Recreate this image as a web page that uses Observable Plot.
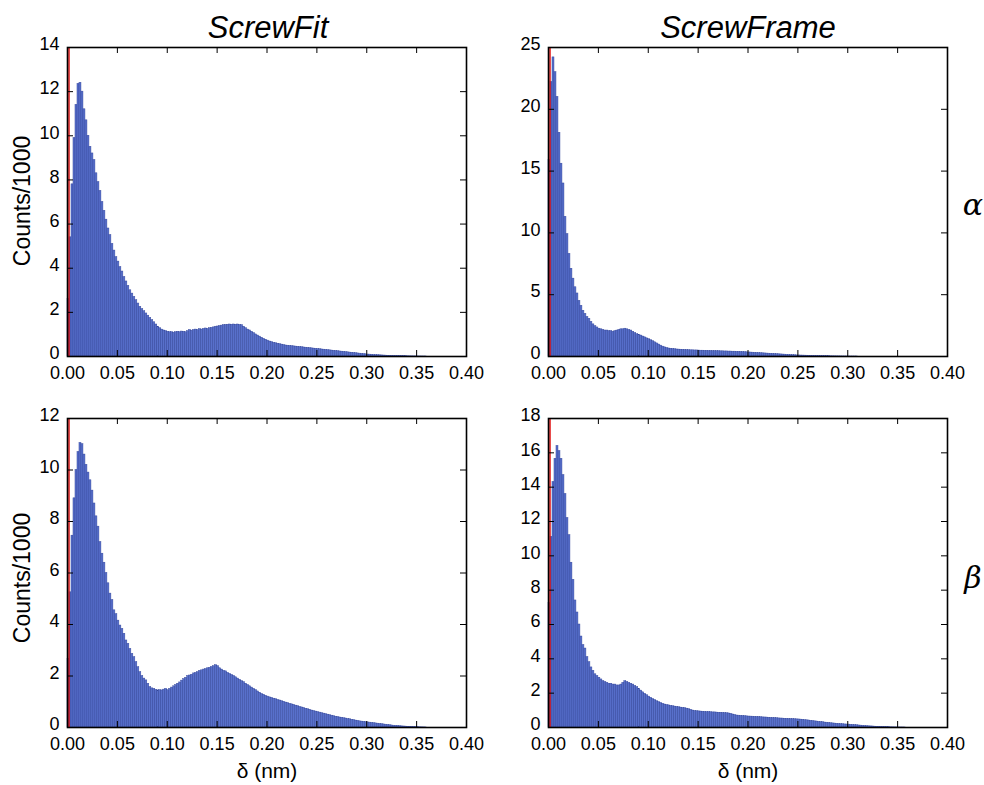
<!DOCTYPE html>
<html>
<head>
<meta charset="utf-8">
<script src="https://cdn.jsdelivr.net/npm/d3@7"></script>
<script src="https://cdn.jsdelivr.net/npm/@observablehq/plot@0.6"></script>
<style>
  body { margin: 0; background: #fff; }
  #fig { position: relative; width: 984px; height: 785px; background: #fff; font-family: "Liberation Sans", Arial, sans-serif; color: #000; }
  .panel { position: absolute; }
  .lbl { position: absolute; transform: translate(-50%, -50%); white-space: nowrap; line-height: 1; }
</style>
</head>
<body>
<div id="fig"></div>
<script>
// ---- data (Counts/1000 per bin of width 0.002 nm, starting at 0) ----
const binWidth = 0.002;
const xTicks = [0, 0.05, 0.10, 0.15, 0.20, 0.25, 0.30, 0.35, 0.40];

const fitAlpha = [
  2.6, 5.4, 7.8, 9.9, 11.4, 12.35, 12.4, 12.0, 11.2, 10.7,
  10.0, 9.5, 9.2, 8.9, 8.3, 7.9, 7.5, 7.0, 6.6, 6.2,
  5.8, 5.5, 5.1, 4.8, 4.5, 4.3, 4.05, 3.85, 3.6, 3.4,
  3.2, 3.0, 2.85, 2.7, 2.55, 2.4, 2.25, 2.15, 2.05, 1.95,
  1.85, 1.75, 1.65, 1.55, 1.45, 1.35, 1.28, 1.22, 1.18, 1.15,
  1.12, 1.1, 1.1, 1.08, 1.1, 1.12, 1.1, 1.13, 1.12, 1.1,
  1.15, 1.2, 1.17, 1.2, 1.22, 1.2, 1.24, 1.22, 1.25, 1.27,
  1.25, 1.28, 1.3, 1.32, 1.35, 1.36, 1.38, 1.4, 1.42, 1.43,
  1.44, 1.45, 1.44, 1.45, 1.44, 1.45, 1.43, 1.42, 1.35, 1.28,
  1.22, 1.18, 1.12, 1.06, 1.0, 0.95, 0.9, 0.85, 0.8, 0.76,
  0.72, 0.68, 0.65, 0.62, 0.6, 0.58, 0.56, 0.54, 0.52, 0.5,
  0.49, 0.48, 0.47, 0.46, 0.45, 0.44, 0.43, 0.42, 0.41, 0.4,
  0.39, 0.38, 0.37, 0.36, 0.35, 0.34, 0.33, 0.32, 0.31, 0.3,
  0.29, 0.28, 0.27, 0.26, 0.25, 0.24, 0.23, 0.22, 0.21, 0.2,
  0.19, 0.18, 0.17, 0.16, 0.15, 0.14, 0.13, 0.12, 0.11, 0.1,
  0.09, 0.085, 0.08, 0.07, 0.065, 0.06, 0.055, 0.05, 0.045, 0.04,
  0.035, 0.03, 0.028, 0.025, 0.022, 0.02, 0.018, 0.015, 0.013, 0.011,
  0.01, 0.008, 0.006, 0.005, 0.004, 0.003, 0.002, 0.002, 0.001, 0.001
];

const frameAlpha = [
  15.9, 22.2, 24.2, 23.0, 21.0, 18.1, 15.6, 14.0, 11.3, 9.9,
  8.3, 7.1, 6.3, 5.6, 5.1, 4.5, 4.1, 3.7, 3.45, 3.2,
  3.05, 2.8, 2.6, 2.45, 2.35, 2.25, 2.2, 2.15, 2.1, 2.1,
  2.05, 2.05, 2.0, 2.05, 2.1, 2.15, 2.2, 2.2, 2.25, 2.2,
  2.15, 2.1, 2.0, 1.9, 1.8, 1.75, 1.7, 1.62, 1.55, 1.47,
  1.4, 1.32, 1.24, 1.15, 1.06, 0.97, 0.88, 0.8, 0.74, 0.69,
  0.65, 0.63, 0.61, 0.59, 0.57, 0.56, 0.55, 0.54, 0.53, 0.52,
  0.51, 0.5, 0.5, 0.49, 0.49, 0.48, 0.47, 0.47, 0.46, 0.46,
  0.45, 0.45, 0.44, 0.44, 0.43, 0.43, 0.42, 0.42, 0.41, 0.41,
  0.4, 0.4, 0.39, 0.39, 0.38, 0.38, 0.37, 0.36, 0.35, 0.34,
  0.33, 0.32, 0.31, 0.3, 0.29, 0.28, 0.27, 0.26, 0.25, 0.24,
  0.23, 0.22, 0.21, 0.2, 0.19, 0.18, 0.17, 0.16, 0.15, 0.14,
  0.13, 0.12, 0.11, 0.1, 0.09, 0.085, 0.08, 0.075, 0.07, 0.065,
  0.06, 0.055, 0.05, 0.045, 0.04, 0.035, 0.03, 0.028, 0.025, 0.022,
  0.02, 0.018, 0.016, 0.014, 0.012, 0.01, 0.008, 0.006, 0.005, 0.004,
  0.003, 0.002, 0.002, 0.001, 0.001
];

const fitBeta = [
  2.67, 5.25, 7.45, 8.9, 10.0, 10.7, 11.05, 11.0, 10.6, 10.2,
  9.9, 9.6, 9.2, 8.7, 8.2, 7.8, 7.2, 6.75, 6.4, 6.0,
  5.6, 5.2, 4.95, 4.55, 4.4, 4.15, 3.96, 3.83, 3.64, 3.38,
  3.25, 3.05, 2.86, 2.73, 2.54, 2.34, 2.15, 2.0, 1.9, 1.83,
  1.7, 1.57, 1.52, 1.5, 1.46, 1.44, 1.45, 1.44, 1.47, 1.5,
  1.45, 1.5, 1.55, 1.6, 1.65, 1.7, 1.75, 1.82, 1.88, 1.93,
  2.0, 2.02, 2.05, 2.1, 2.12, 2.15, 2.2, 2.22, 2.25, 2.27,
  2.3, 2.32, 2.35, 2.38, 2.42, 2.38, 2.3, 2.25, 2.2, 2.18,
  2.12, 2.08, 2.04, 2.0, 1.95, 1.9, 1.85, 1.8, 1.76, 1.7,
  1.65, 1.6, 1.55, 1.5, 1.45, 1.4, 1.35, 1.3, 1.27, 1.23,
  1.2, 1.17, 1.15, 1.12, 1.1, 1.07, 1.05, 1.02, 1.0, 0.97,
  0.95, 0.92, 0.9, 0.88, 0.85, 0.83, 0.8, 0.78, 0.76, 0.73,
  0.71, 0.69, 0.66, 0.64, 0.62, 0.6, 0.58, 0.56, 0.54, 0.52,
  0.5, 0.48, 0.46, 0.44, 0.42, 0.41, 0.39, 0.38, 0.36, 0.35,
  0.33, 0.32, 0.3, 0.29, 0.27, 0.26, 0.24, 0.23, 0.22, 0.21,
  0.2, 0.19, 0.18, 0.17, 0.16, 0.15, 0.14, 0.13, 0.12, 0.11,
  0.1, 0.09, 0.08, 0.07, 0.065, 0.06, 0.05, 0.045, 0.04, 0.035,
  0.03, 0.025, 0.02, 0.015, 0.012, 0.01, 0.008, 0.006, 0.004, 0.002
];

const frameBeta = [
  7.24, 11.1, 14.3, 15.65, 16.4, 16.1, 15.65, 14.7, 13.6, 12.2,
  11.2, 9.6, 8.6, 7.4, 6.7, 6.0, 5.3, 4.8, 4.6, 4.1,
  3.8, 3.5, 3.3, 3.1, 3.0, 2.9, 2.8, 2.7, 2.65, 2.6,
  2.55, 2.55, 2.5, 2.5, 2.45, 2.45, 2.5, 2.6, 2.7, 2.65,
  2.6, 2.55, 2.5, 2.42, 2.35, 2.25, 2.15, 2.05, 1.96, 1.88,
  1.8, 1.73, 1.66, 1.6, 1.53, 1.48, 1.43, 1.38, 1.34, 1.31,
  1.29, 1.26, 1.24, 1.22, 1.2, 1.18, 1.16, 1.14, 1.13, 1.1,
  1.07, 1.03, 0.99, 0.96, 0.95, 0.94, 0.93, 0.92, 0.91, 0.9,
  0.9, 0.89, 0.88, 0.88, 0.87, 0.86, 0.86, 0.85, 0.84, 0.83,
  0.82, 0.8, 0.76, 0.73, 0.7, 0.69, 0.68, 0.67, 0.66, 0.65,
  0.64, 0.635, 0.63, 0.62, 0.615, 0.61, 0.6, 0.59, 0.585, 0.58,
  0.57, 0.56, 0.555, 0.55, 0.54, 0.53, 0.525, 0.52, 0.51, 0.505,
  0.5, 0.495, 0.49, 0.48, 0.475, 0.47, 0.46, 0.45, 0.43, 0.42,
  0.41, 0.39, 0.38, 0.36, 0.35, 0.33, 0.32, 0.31, 0.29, 0.28,
  0.27, 0.25, 0.24, 0.23, 0.22, 0.21, 0.2, 0.19, 0.18, 0.175,
  0.17, 0.16, 0.15, 0.14, 0.13, 0.12, 0.11, 0.1, 0.09, 0.08,
  0.07, 0.065, 0.06, 0.05, 0.045, 0.04, 0.035, 0.03, 0.025, 0.02,
  0.015, 0.012, 0.01, 0.008, 0.006, 0.004, 0.003, 0.002, 0.001
];

const yTicksFitAlpha = [0, 2, 4, 6, 8, 10, 12, 14];
const yTicksFrameAlpha = [0, 5, 10, 15, 20, 25];
const yTicksFitBeta = [0, 2, 4, 6, 8, 10, 12];
const yTicksFrameBeta = [0, 2, 4, 6, 8, 10, 12, 14, 16, 18];

const titles = ["ScrewFit", "ScrewFrame"];
const rowLabels = ["α", "β"];
const yLabel = "Counts/1000";
const xLabel = "δ (nm)";

// ---- drawing ----
const fig = document.getElementById("fig");

function panel(values, yTicks, left, top, width, height, mt, mb) {
  const ml = 67, mr = 14;
  const plotW = width - ml - mr;
  const plotH = height - mt - mb;
  const data = values.map((v, i) => ({x1: i * binWidth, x2: (i + 1) * binWidth, v}));
  const yMax = yTicks[yTicks.length - 1];
  const tl = 6;
  const chart = Plot.plot({
    width, height,
    marginLeft: ml, marginRight: mr, marginTop: mt, marginBottom: mb,
    style: {fontFamily: "'Liberation Sans', Arial, sans-serif", fontSize: "18px", color: "#000", background: "transparent", overflow: "visible"},
    x: {domain: [0, 0.4]},
    y: {domain: [0, yMax]},
    marks: [
      Plot.rectY(data, {x1: "x1", x2: "x2", y: "v", fill: "#5870cb", stroke: "#30439a", strokeWidth: 0.45}),
      Plot.ruleX([0], {stroke: "#e01010", strokeWidth: 1.5, dx: 1.5}),
      Plot.tickX(xTicks, {x: d => d, insetTop: plotH - tl, stroke: "#000", strokeWidth: 1}),
      Plot.tickX(xTicks, {x: d => d, insetBottom: plotH - tl, stroke: "#000", strokeWidth: 1}),
      Plot.tickY(yTicks, {y: d => d, insetRight: plotW - tl, stroke: "#000", strokeWidth: 1}),
      Plot.tickY(yTicks, {y: d => d, insetLeft: plotW - tl, stroke: "#000", strokeWidth: 1}),
      Plot.frame({stroke: "#000", strokeWidth: 1.6}),
      Plot.axisX({ticks: xTicks, tickSize: 0, tickPadding: 10, tickFormat: d3.format(".2f"), label: null}),
      Plot.axisY({ticks: yTicks, tickSize: 0, tickPadding: 8, tickFormat: d3.format("d"), label: null, dy: -3})
    ]
  });
  chart.classList.add("panel");
  chart.style.left = left + "px";
  chart.style.top = top + "px";
  fig.appendChild(chart);
}

panel(fitAlpha, yTicksFitAlpha, 0, 0, 480, 390, 47, 34);
panel(frameAlpha, yTicksFrameAlpha, 481, 0, 480, 390, 47, 34);
panel(fitBeta, yTicksFitBeta, 0, 390, 480, 395, 28, 58);
panel(frameBeta, yTicksFrameBeta, 481, 390, 480, 395, 28, 58);

function label(text, x, y, css) {
  const d = document.createElement("div");
  d.className = "lbl";
  d.textContent = text;
  d.style.left = x + "px";
  d.style.top = y + "px";
  Object.assign(d.style, css || {});
  fig.appendChild(d);
}

label(titles[0], 268, 27, {fontSize: "31px", fontStyle: "italic"});
label(titles[1], 748, 27, {fontSize: "31px", fontStyle: "italic"});
label(yLabel, 22, 201, {fontSize: "23px", transform: "translate(-50%, -50%) rotate(-90deg)"});
label(yLabel, 22, 578, {fontSize: "23px", transform: "translate(-50%, -50%) rotate(-90deg)"});
label(xLabel, 267, 770, {fontSize: "21px"});
label(xLabel, 748, 770, {fontSize: "21px"});
label(rowLabels[0], 973, 205, {fontSize: "30px", fontStyle: "italic", fontFamily: "'DejaVu Serif', serif"});
label(rowLabels[1], 973, 578, {fontSize: "30px", fontStyle: "italic", fontFamily: "'DejaVu Serif', serif"});
</script>
</body>
</html>
